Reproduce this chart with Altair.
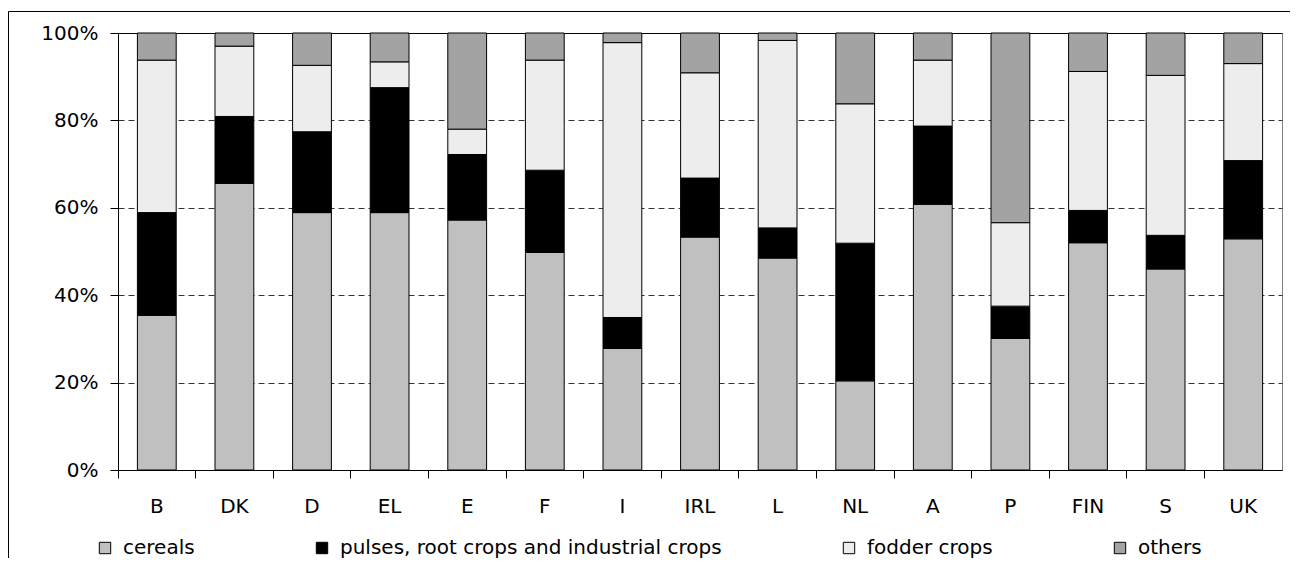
import altair as alt
import pandas as pd

countries = ["B", "DK", "D", "EL", "E", "F", "I", "IRL", "L", "NL", "A", "P", "FIN", "S", "UK"]
cereals = [35.4, 65.6, 58.9, 58.9, 57.2, 49.8, 27.8, 53.3, 48.5, 20.4, 60.8, 30.1, 52.0, 46.0, 52.9]
pulses = [23.5, 15.3, 18.5, 28.6, 15.0, 18.8, 7.1, 13.5, 6.9, 31.5, 17.9, 7.4, 7.4, 7.7, 17.9]
fodder = [34.9, 16.1, 15.2, 5.9, 5.8, 25.2, 62.9, 24.1, 42.9, 31.9, 15.1, 19.1, 31.8, 36.6, 22.2]
others = [6.2, 3.0, 7.4, 6.6, 22.0, 6.2, 2.2, 9.1, 1.7, 16.2, 6.2, 43.4, 8.8, 9.7, 7.0]
series = ["cereals", "pulses, root crops and industrial crops", "fodder crops", "others"]
colors = ["#C0C0C0", "#000000", "#EDEDED", "#A3A3A3"]
y_ticks = [0, 20, 40, 60, 80, 100]

rows = []
for k, (name, vals) in enumerate(zip(series, [cereals, pulses, fodder, others])):
    for c, v in zip(countries, vals):
        rows.append({"country": c, "series": name, "value": v, "k": k})
df = pd.DataFrame(rows)

FONT = "DejaVu Sans"
FS = 20

frame = alt.Chart(pd.DataFrame({"a": [0]})).mark_rect(
    fillOpacity=0, stroke="black", strokeWidth=1
).encode(
    x=alt.value(-109.5), x2=alt.value(1400), y=alt.value(-21.5), y2=alt.value(800)
)

bars = alt.Chart(df).mark_bar(stroke="black", strokeWidth=1).encode(
    x=alt.X(
        "country:N", sort=countries, title=None,
        scale=alt.Scale(paddingInner=0.5, paddingOuter=0.25),
        axis=alt.Axis(labelAngle=0, bandPosition=-0.5, tickSize=8, labelPadding=18,
                      grid=False, domainColor="black", tickColor="black"),
    ),
    y=alt.Y(
        "value:Q", stack="zero", title=None,
        scale=alt.Scale(domain=[0, 100], nice=False),
        axis=alt.Axis(
            values=y_ticks, labelExpr="datum.value + '%'", tickSize=8, labelPadding=12,
            domainColor="black", tickColor="black", grid=True,
            gridColor={"condition": {"test": "datum.value >= 100", "value": "black"}, "value": "#333333"},
            gridDash={"condition": {"test": "datum.value >= 100", "value": []}, "value": [6, 4]},
            gridWidth=1,
        ),
    ),
    color=alt.Color(
        "series:N",
        scale=alt.Scale(domain=series, range=colors),
        legend=alt.Legend(
            orient="none", legendX=-23, legendY=505, direction="horizontal", title=None,
            symbolType="square", symbolSize=130, symbolStrokeColor="black", symbolStrokeWidth=1,
            symbolOpacity=1, labelFont=FONT, labelFontSize=FS, labelColor="black",
            labelLimit=600, columnPadding=117, labelOffset=8, padding=0,
        ),
    ),
    order=alt.Order("k:Q", sort="ascending"),
)

chart = alt.layer(frame, bars).properties(
    width=1164, height=437,
    autosize=alt.AutoSizeParams(type="none"),
    padding={"left": 110, "top": 25, "right": 8, "bottom": 88},
).configure_view(
    stroke="#808080", strokeWidth=1
).configure_axis(
    labelFont=FONT, labelFontSize=FS, labelColor="black"
)

chart.save("out.html", embed_options={"renderer": "svg", "actions": False})
